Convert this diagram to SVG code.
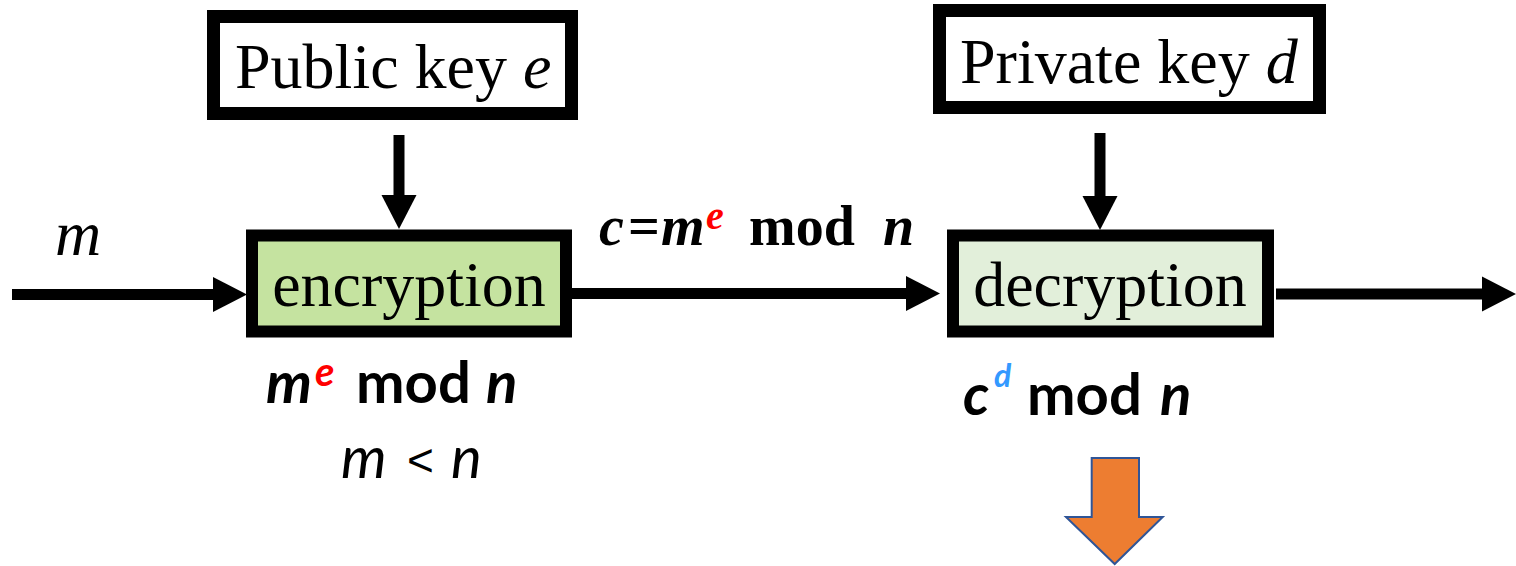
<svg xmlns="http://www.w3.org/2000/svg" width="1516" height="566" viewBox="0 0 1516 566">
<style>
.box{stroke:#000;stroke-width:13;}
.serif{font-family:"Liberation Serif","Times New Roman",serif;font-size:64px;fill:#000;}
.bserif{font-family:"Liberation Serif","Times New Roman",serif;font-size:56px;font-weight:bold;fill:#000;}
.sans{font-family:Lato,"Open Sans","Liberation Sans",sans-serif;font-size:58px;fill:#000;}
.b{font-weight:bold;}
.i{font-style:italic;}
.conn{stroke:#000;stroke-width:11;fill:none;marker-end:url(#ah);}
</style>
<defs>
<marker id="ah" markerUnits="userSpaceOnUse" markerWidth="34" markerHeight="36" refX="2" refY="17.5" orient="auto" viewBox="0 0 34 35">
<path d="M0,0 L34,17.5 L0,35 Z" fill="#000"/>
</marker>
</defs>
<rect width="1516" height="566" fill="#fff"/>

<g id="connectors">
<path class="conn" d="M12,294.5 H215"/>
<path class="conn" d="M572,293.5 H908"/>
<path class="conn" d="M1276,294 H1484"/>
<path class="conn" d="M399,135 V197"/>
<path class="conn" d="M1100,133 V198"/>
</g>

<g id="public-key">
<rect class="box" x="213.5" y="16.5" width="358" height="97" fill="#fff"/>
<text class="serif" x="235" y="88">Public key <tspan class="i">e</tspan></text>
</g>

<g id="private-key">
<rect class="box" x="939.5" y="10.5" width="380" height="97" fill="#fff"/>
<text class="serif" x="960" y="83">Private key <tspan class="i">d</tspan></text>
</g>

<g id="encryption">
<rect class="box" x="252" y="235.5" width="314" height="96" fill="#c5e3a0" style="stroke-width:12"/>
<text class="serif" x="409" y="306" text-anchor="middle">encryption</text>
</g>

<g id="decryption">
<rect class="box" x="953" y="235.5" width="315" height="96" fill="#e2efda" style="stroke-width:12"/>
<text class="serif" x="1110" y="306" text-anchor="middle">decryption</text>
</g>

<g id="label-m">
<text class="serif i" x="55" y="255">m</text>
</g>

<g id="label-cipher">
<text class="bserif i" x="599" y="245">c</text>
<text class="bserif" x="628" y="245">=</text>
<text class="bserif i" x="661" y="245">m</text>
<text class="bserif i" x="706" y="229" style="font-size:40px;fill:#ff0000">e</text>
<text class="bserif" x="749" y="245">mod</text>
<text class="bserif i" x="883" y="245">n</text>
</g>

<g id="label-enc">
<text class="sans b i" x="266" y="403">m</text>
<text class="sans b i" x="315" y="386" style="font-size:40px;fill:#ff0000">e</text>
<text class="sans b" x="356" y="403">mod</text>
<text class="sans b i" x="486" y="403">n</text>
<text class="sans i" x="341" y="478">m</text>
<text x="407" y="476" style="font-family:'Liberation Sans',Arial,sans-serif;font-size:46px;fill:#000">&lt;</text>
<text class="sans i" x="451" y="478">n</text>
</g>

<g id="label-dec">
<text class="sans b i" x="963" y="415">c</text>
<text class="sans b i" x="994" y="387" style="font-size:32px;fill:#3399ff">d</text>
<text class="sans b" x="1027" y="415">mod</text>
<text class="sans b i" x="1160" y="415">n</text>
</g>

<g id="down-arrow">
<polygon points="1091.7,458 1139,458 1139,517 1162.7,517 1114.7,564 1066,517 1091.7,517" fill="#ed7d31" stroke="#2f5597" stroke-width="2"/>
</g>
</svg>
